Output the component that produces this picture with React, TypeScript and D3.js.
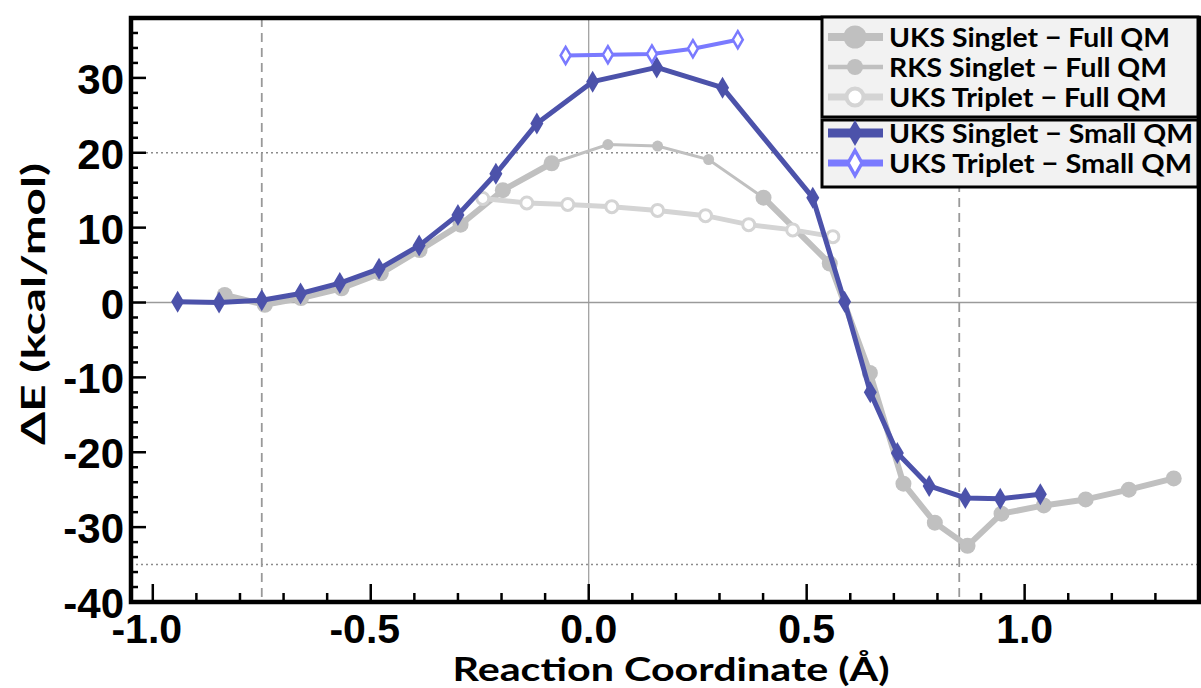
import React from "react";
import * as d3 from "d3";

// ---------- data ----------
const uksFullX = [-0.835, -0.743, -0.66, -0.567, -0.477, -0.388, -0.294, -0.197, -0.085, 0.16, 0.401, 0.553, 0.645, 0.722, 0.794, 0.869, 0.947, 1.044, 1.14, 1.239, 1.342];
const uksFullE: (number | null)[] = [1.0, -0.3, 0.6, 1.9, 3.9, 7.0, 10.4, 15.0, 18.6, null, 14.0, 5.2, -9.4, -24.2, -29.4, -32.5, -28.2, -27.1, -26.3, -25.0, -23.5];

const rksFullX = [-0.085, 0.044, 0.158, 0.275, 0.401];
const rksFullE = [18.6, 21.1, 20.9, 19.1, 14.0];

const tripFullX = [-0.243, -0.142, -0.048, 0.053, 0.158, 0.268, 0.367, 0.468, 0.56];
const tripFullE = [13.9, 13.3, 13.1, 12.8, 12.3, 11.6, 10.4, 9.7, 8.8];

const uksSmallX = [-0.943, -0.848, -0.75, -0.661, -0.571, -0.481, -0.389, -0.3, -0.213, -0.119, 0.009, 0.156, 0.307, 0.514, 0.587, 0.646, 0.708, 0.781, 0.864, 0.944, 1.036];
const uksSmallE = [0.1, 0.0, 0.3, 1.2, 2.6, 4.5, 7.6, 11.7, 17.2, 23.9, 29.5, 31.4, 28.7, 14.0, 0.1, -12.0, -20.1, -24.5, -26.1, -26.2, -25.6];

const tripSmallX = [-0.053, 0.044, 0.145, 0.239, 0.342];
const tripSmallE = [33.0, 33.1, 33.2, 33.9, 35.1];

const xMajorTicks = [-1.0, -0.5, 0.0, 0.5, 1.0];
const xTickLabels = ["-1.0", "-0.5", "0.0", "0.5", "1.0"];
const yMajorTicks = [-40, -30, -20, -10, 0, 10, 20, 30];
const dashedX = [-0.75, 0.85];
const dottedY = [20, -35];

const legendLabels = [
  "UKS Singlet \u2212 Full QM",
  "RKS Singlet \u2212 Full QM",
  "UKS Triplet \u2212 Full QM",
  "UKS Singlet \u2212 Small QM",
  "UKS Triplet \u2212 Small QM",
];

// ---------- styles ----------
const GREY = "#c0c0c0";
const LGREY = "#d4d4d4";
const BLUE = "#4c52aa";
const LBLUE = "#7a7aff";

const W = 1201;
const H = 688;
const L = 131, R = 1199, T = 18, B = 602;

const x = d3.scaleLinear().domain([-1.05, 1.4]).range([L, R]);
const y = d3.scaleLinear().domain([-40, 38]).range([B, T]);

type P = { x: number; e: number | null };
const zip = (xs: number[], es: (number | null)[]): P[] => xs.map((v, i) => ({ x: v, e: es[i] }));

const line = d3
  .line<P>()
  .defined((d) => d.e !== null)
  .x((d) => x(d.x))
  .y((d) => y(d.e as number));

const diamond = (w: number, h: number) => `M0,${-h}L${w},0L0,${h}L${-w},0Z`;

const TICK_FONT = "'Liberation Sans', Arial, sans-serif";
const LABEL_FONT = "Lato, 'Open Sans', sans-serif";

export default function App() {
  const uksFull = zip(uksFullX, uksFullE);
  const rks = zip(rksFullX, rksFullE);
  const tripF = zip(tripFullX, tripFullE);
  const uksS = zip(uksSmallX, uksSmallE);
  const tripS = zip(tripSmallX, tripSmallE);

  const yMinor = d3.range(-40, 38.01, 2).filter((v) => v % 10 !== 0);
  const xMinor = d3.range(-1.0, 1.401, 0.1).filter((v) => Math.abs(Math.round(v * 10) % 5) !== 0);

  const legendRows = [37, 67, 97, 133, 163];
  const legendWidths = [281, 278, 278, 304, 303];

  return (
    <svg width={W} height={H} style={{ position: "absolute", left: 0, top: 0, background: "#fff" }}>
      {/* reference lines */}
      <line x1={x(0)} x2={x(0)} y1={T} y2={B} stroke="#9a9a9a" strokeWidth={1.2} />
      <line x1={L} x2={R} y1={y(0)} y2={y(0)} stroke="#9a9a9a" strokeWidth={1.6} />
      {dottedY.map((v) => (
        <line key={"dy" + v} x1={L} x2={R} y1={y(v)} y2={y(v)} stroke="#8c8c8c" strokeWidth={1.5} strokeDasharray="2,3" />
      ))}
      {dashedX.map((v) => (
        <line key={"dx" + v} x1={x(v)} x2={x(v)} y1={T} y2={B} stroke="#999" strokeWidth={1.8} strokeDasharray="9,6" />
      ))}

      {/* UKS Singlet Full QM */}
      <path d={line(uksFull) || ""} fill="none" stroke={GREY} strokeWidth={6} strokeLinejoin="round" />
      {uksFull.filter((d) => d.e !== null).map((d, i) => (
        <circle key={"uf" + i} cx={x(d.x)} cy={y(d.e as number)} r={8} fill={GREY} />
      ))}
      {/* RKS Singlet Full QM */}
      <path d={line(rks) || ""} fill="none" stroke={GREY} strokeWidth={3} />
      {rks.map((d, i) => (
        <circle key={"rk" + i} cx={x(d.x)} cy={y(d.e as number)} r={5.5} fill={GREY} />
      ))}
      {/* UKS Triplet Full QM */}
      <path d={line(tripF) || ""} fill="none" stroke={LGREY} strokeWidth={5} />
      {tripF.map((d, i) => (
        <circle key={"tf" + i} cx={x(d.x)} cy={y(d.e as number)} r={6} fill="#fff" stroke={LGREY} strokeWidth={3} />
      ))}
      {/* UKS Singlet Small QM */}
      <path d={line(uksS) || ""} fill="none" stroke={BLUE} strokeWidth={5} strokeLinejoin="round" />
      {uksS.map((d, i) => (
        <path key={"us" + i} d={diamond(6.5, 11)} transform={`translate(${x(d.x)},${y(d.e as number)})`} fill={BLUE} />
      ))}
      {/* UKS Triplet Small QM */}
      <path d={line(tripS) || ""} fill="none" stroke={LBLUE} strokeWidth={4} />
      {tripS.map((d, i) => (
        <path key={"ts" + i} d={diamond(5, 8.5)} transform={`translate(${x(d.x)},${y(d.e as number)})`} fill="#fff" stroke={LBLUE} strokeWidth={2.5} />
      ))}

      {/* ticks */}
      {yMajorTicks.map((v) => (
        <line key={"ym" + v} x1={L} x2={L + 15} y1={y(v)} y2={y(v)} stroke="#000" strokeWidth={2.5} />
      ))}
      {yMinor.map((v) => (
        <line key={"yn" + v} x1={L} x2={L + 7} y1={y(v)} y2={y(v)} stroke="#000" strokeWidth={2.5} />
      ))}
      {xMajorTicks.map((v) => (
        <line key={"xm" + v} x1={x(v)} x2={x(v)} y1={B} y2={B - 18} stroke="#000" strokeWidth={2.5} />
      ))}
      {xMinor.map((v, i) => (
        <line key={"xn" + i} x1={x(v)} x2={x(v)} y1={B} y2={B - 9} stroke="#000" strokeWidth={2.5} />
      ))}

      {/* frame */}
      <rect x={L} y={T} width={R - L} height={B - T} fill="none" stroke="#000" strokeWidth={4.5} />

      {/* tick labels */}
      {yMajorTicks.map((v) => (
        <text key={"yl" + v} x={124} y={y(v) + 16} textAnchor="end" fontFamily={TICK_FONT} fontWeight="bold" fontSize={42} fill="#000">
          {String(v)}
        </text>
      ))}
      {xMajorTicks.map((v, i) => (
        <text key={"xl" + v} x={x(v) - (v < 0 ? 6 : 0)} y={643} textAnchor="middle" fontFamily={TICK_FONT} fontWeight="bold" fontSize={41} fill="#000">
          {xTickLabels[i]}
        </text>
      ))}

      {/* axis titles */}
      <text x={671} y={681} textAnchor="middle" fontFamily={LABEL_FONT} fontWeight="bold" fontSize={32} textLength={437} lengthAdjust="spacingAndGlyphs" fill="#000">
        Reaction Coordinate (Å)
      </text>
      <text transform="translate(45,304) rotate(-90)" textAnchor="middle" fontFamily={LABEL_FONT} fontWeight="bold" fontSize={33} textLength={282} lengthAdjust="spacingAndGlyphs" fill="#000">
        ΔE (kcal/mol)
      </text>

      {/* legend */}
      <rect x={822} y={17} width={376} height={100} fill="#f2f2f2" stroke="#000" strokeWidth={3} />
      <rect x={822} y={120} width={376} height={67} fill="#f2f2f2" stroke="#000" strokeWidth={3} />
      {/* sample 0 */}
      <line x1={828} x2={883} y1={legendRows[0]} y2={legendRows[0]} stroke={GREY} strokeWidth={8} />
      <circle cx={855} cy={legendRows[0]} r={11.5} fill={GREY} />
      {/* sample 1 */}
      <line x1={828} x2={883} y1={legendRows[1]} y2={legendRows[1]} stroke={GREY} strokeWidth={4.5} />
      <circle cx={855} cy={legendRows[1]} r={8} fill={GREY} />
      {/* sample 2 */}
      <line x1={828} x2={883} y1={legendRows[2]} y2={legendRows[2]} stroke={LGREY} strokeWidth={7} />
      <circle cx={855} cy={legendRows[2]} r={8.5} fill="#fff" stroke={LGREY} strokeWidth={4} />
      {/* sample 3 */}
      <line x1={828} x2={883} y1={legendRows[3]} y2={legendRows[3]} stroke={BLUE} strokeWidth={9} />
      <path d={diamond(7.5, 13)} transform={`translate(855,${legendRows[3]})`} fill={BLUE} />
      {/* sample 4 */}
      <line x1={828} x2={883} y1={legendRows[4]} y2={legendRows[4]} stroke={LBLUE} strokeWidth={7} />
      <path d={diamond(7, 12.5)} transform={`translate(855,${legendRows[4]})`} fill="#fff" stroke={LBLUE} strokeWidth={3.5} />
      {legendLabels.map((t, i) => (
        <text key={"lg" + i} x={889} y={legendRows[i] + 10} fontFamily={LABEL_FONT} fontWeight="bold" fontSize={27} textLength={legendWidths[i]} lengthAdjust="spacingAndGlyphs" fill="#000">
          {t}
        </text>
      ))}
    </svg>
  );
}
